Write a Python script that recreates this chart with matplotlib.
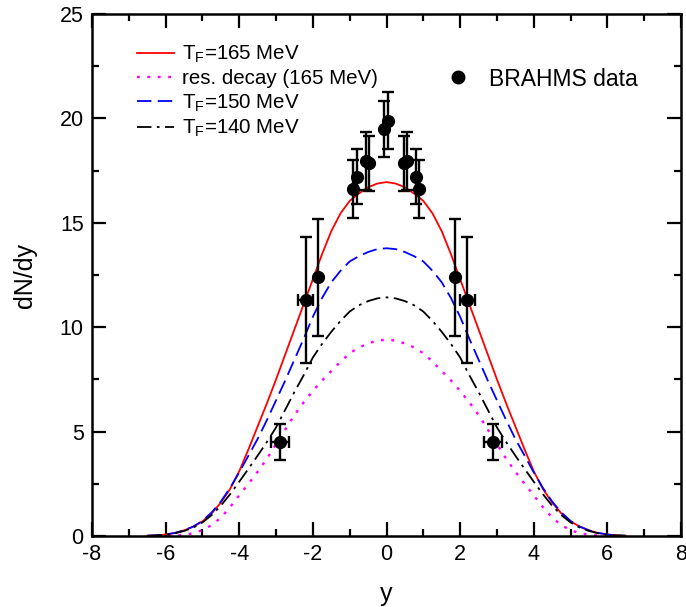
import matplotlib
matplotlib.use("Agg")
import matplotlib.pyplot as plt
import numpy as np
from matplotlib.lines import Line2D
from matplotlib.ticker import MultipleLocator

plt.rcParams["font.family"] = ["Liberation Sans", "DejaVu Sans"]
plt.rcParams["axes.unicode_minus"] = False

# model curves, given for y >= 0 and mirrored (symmetric in rapidity)
y_grid = [0, 0.25, 0.5, 0.75, 1.0, 1.25, 1.5, 1.75, 2.0, 2.25, 2.5, 2.75, 3.0,
          3.25, 3.5, 3.75, 4.0, 4.25, 4.5, 4.75, 5.0, 5.25, 5.5, 5.75, 6.0, 6.25, 6.5]
dndy_165 = [16.95, 16.88, 16.7, 16.4, 16.05, 15.45, 14.6, 13.5, 12.3, 11.1, 9.9, 8.7, 7.5,
            6.35, 5.25, 4.15, 3.1, 2.25, 1.6, 1.08, 0.7, 0.45, 0.27, 0.14, 0.07, 0.03, 0.01]
dndy_res = [9.4, 9.36, 9.22, 9.03, 8.75, 8.35, 7.9, 7.45, 6.95, 6.4, 5.8, 5.1, 4.4,
            3.7, 3.08, 2.5, 1.95, 1.38, 0.88, 0.52, 0.28, 0.13, 0.06, 0.02, 0.0, 0.0, 0.0]
dndy_150 = [13.78, 13.74, 13.6, 13.4, 13.15, 12.7, 12.15, 11.4, 10.5, 9.45, 8.45, 7.45, 6.5,
            5.55, 4.65, 3.85, 3.05, 2.3, 1.65, 1.13, 0.72, 0.45, 0.27, 0.15, 0.07, 0.03, 0.01]
dndy_140 = [11.43, 11.38, 11.25, 11.05, 10.75, 10.3, 9.78, 9.2, 8.55, 7.7, 6.9, 6.05, 5.2,
            4.5, 3.85, 3.22, 2.6, 2.0, 1.45, 1.0, 0.65, 0.4, 0.24, 0.13, 0.06, 0.03, 0.01]

# BRAHMS data
y_data = [-2.9, -2.2, -1.85, -0.9, -0.81, -0.57, -0.47, -0.06, 0.05, 0.48, 0.57, 0.79, 0.89, 1.85, 2.2, 2.9]
dndy_data = [4.5, 11.3, 12.4, 16.62, 17.21, 17.96, 17.85, 19.48, 19.89, 17.85, 17.96, 17.21, 16.62, 12.4, 11.3, 4.5]
dndy_err = [0.88, 3.03, 2.8, 1.38, 1.31, 1.4, 1.31, 1.35, 1.36, 1.31, 1.4, 1.31, 1.38, 2.8, 3.03, 0.88]
y_err = [0.24, 0.2, 0, 0, 0, 0, 0, 0, 0, 0, 0, 0, 0, 0, 0.2, 0.24]


def mirror(xs, vals):
    xs = np.asarray(xs)
    vals = np.asarray(vals)
    return np.concatenate([-xs[::-1], xs[1:]]), np.concatenate([vals[::-1], vals[1:]])


fig = plt.figure(figsize=(6.86, 6.07), dpi=100)
ax = fig.add_axes([92 / 686, 71 / 607, 589 / 686, 522 / 607])

x, v = mirror(y_grid, dndy_165)
l1, = ax.plot(x, v, color="red", lw=1.3, label=r"$\mathregular{T_F}$=165 MeV")
x, v = mirror(y_grid, dndy_res)
l2, = ax.plot(x, v, color="magenta", lw=1.7, linestyle=(0, (1.2, 3.2)), label="res. decay (165 MeV)")
x, v = mirror(y_grid, dndy_150)
l3, = ax.plot(x, v, color="blue", lw=1.3, linestyle=(0, (8, 3.5)), label=r"$\mathregular{T_F}$=150 MeV")
x, v = mirror(y_grid, dndy_140)
l4, = ax.plot(x, v, color="black", lw=1.3, linestyle=(0, (8, 3, 1.5, 3)), label=r"$\mathregular{T_F}$=140 MeV")

ax.errorbar(y_data, dndy_data, yerr=dndy_err, xerr=y_err, fmt="o", color="black",
            markersize=8.5, elinewidth=1.7, capsize=4, capthick=1.7, zorder=5)

leg1 = ax.legend(handles=[l1, l2, l3, l4], loc="upper left", bbox_to_anchor=(0.045, 0.978),
                 frameon=False, fontsize=14.8, handlelength=1.8, handletextpad=0.4, labelspacing=0.2)
ax.add_artist(leg1)
dot = Line2D([], [], marker="o", color="black", linestyle="none", markersize=9)
ax.legend(handles=[dot], labels=["BRAHMS data"], loc="upper right", bbox_to_anchor=(0.962, 0.937),
          frameon=False, fontsize=16.5, handletextpad=0.35)

ax.set_xlim(-8, 8)
ax.set_ylim(0, 25)
ax.xaxis.set_major_locator(MultipleLocator(2))
ax.xaxis.set_minor_locator(MultipleLocator(1))
ax.yaxis.set_major_locator(MultipleLocator(5))
ax.yaxis.set_minor_locator(MultipleLocator(2.5))
ax.tick_params(which="both", direction="in", top=True, right=True, width=1.6, labelsize=15.5)
ax.tick_params(which="major", length=10, pad=6)
ax.tick_params(which="minor", length=5)
for s in ax.spines.values():
    s.set_linewidth(1.8)

ax.set_xlabel("y", fontsize=18, labelpad=12)
ax.set_ylabel("dN/dy", fontsize=18, labelpad=16)

fig.savefig("out.png", dpi=100)
